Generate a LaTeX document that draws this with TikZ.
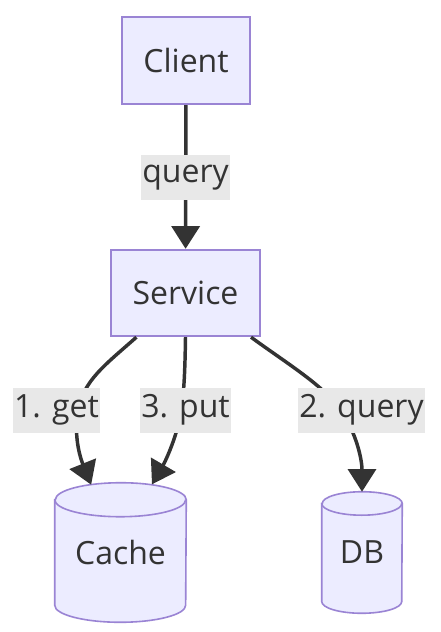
\documentclass[tikz,border=0pt]{standalone}
\usepackage{fontspec}
\setmainfont{Open Sans}
\usetikzlibrary{arrows.meta,positioning,backgrounds}
\definecolor{nodefill}{HTML}{ECECFF}
\definecolor{nodeline}{HTML}{9A84D4}
\definecolor{edgeline}{HTML}{333333}
\definecolor{lblfill}{HTML}{E8E8E8}
\tikzset{
  txt/.style={font=\fontsize{24}{29}\selectfont,text=edgeline},
  procblk/.style={txt,rectangle,draw=nodeline,fill=nodefill,line width=1.8pt,minimum width=96pt,minimum height=65pt},
  dbblk/.style={txt,rectangle,inner sep=0pt},
  dbline/.style={draw=nodeline,fill=nodefill,line width=1.2pt},
  elbl/.style={txt,fill=lblfill,inner xsep=1pt,inner ysep=0pt,minimum height=33.75pt},
  arr/.style={-{Triangle[width=21pt,length=17pt]},line width=2.6pt,draw=edgeline}
}
% cylinder drawn round a node: name, x radius, y radius
\newcommand{\drawdb}[3]{%
  \path[dbline] ([yshift=-#3]#1.north west) -- ([yshift=#3]#1.south west)
    arc[start angle=180,end angle=360,x radius=#2,y radius=#3]
    -- ([yshift=-#3]#1.north east)
    arc[start angle=0,end angle=180,x radius=#2,y radius=#3] -- cycle;
  \draw[dbline,fill=none] ([yshift=-#3]#1.north west)
    arc[start angle=180,end angle=360,x radius=#2,y radius=#3];
}
\begin{document}
\begin{tikzpicture}[x=0.75pt,y=-0.75pt]
  \useasboundingbox (0,0) rectangle (440,632);

  \node[procblk] (client) at (186,60.5) {Client};
  \node[procblk, minimum width=111.75pt, minimum height=64.5pt] (service) at (185.5,293) {Service};
  \node[dbblk, minimum width=98.25pt, minimum height=104.25pt] (cache) at (120.5,552.5) {Cache};
  \node[dbblk, minimum width=60pt, minimum height=90.75pt] (db) at (362,552.5) {DB};

  \begin{scope}[on background layer]
    \fill[white] (0,0) rectangle (440,632);
    \drawdb{cache}{49.1pt}{12.75pt}
    \drawdb{db}{30pt}{8.8pt}
  \end{scope}

  \draw[arr] (client) -- (service);
  \draw[arr] (service.222) .. controls (105,365) and (84,380) .. (78,410)
    .. controls (73,440) and (82,462) .. ([xshift=-22pt,yshift=-1.5pt]cache.north);
  \draw[arr] (service.south) .. controls (185,370) and (184,395) .. (181,410)
    .. controls (178,435) and (165,462) .. ([xshift=23.6pt,yshift=-1.2pt]cache.north);
  \draw[arr] (service.326) .. controls (285,362) and (318,382) .. (337,405)
    .. controls (355,428) and (362,458) .. (db.north);

  \node[elbl] (qlbl) at (185.5,177.5) {query};
  \node[elbl] (getlbl) at (56.5,410) {1. get};
  \node[elbl] (putlbl) at (185.5,410) {3. put};
  \node[elbl] (dbqlbl) at (361.5,410) {2. query};
\end{tikzpicture}
\end{document}
